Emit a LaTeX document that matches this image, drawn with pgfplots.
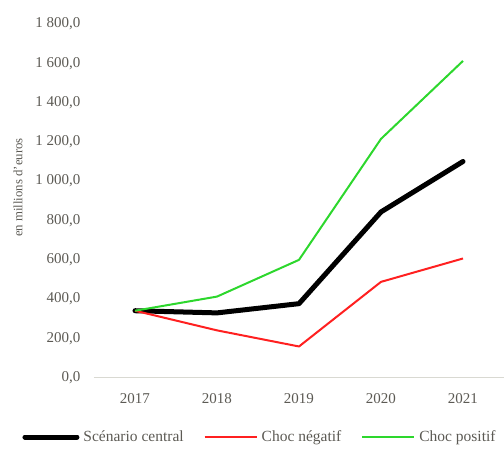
\documentclass[border=0pt]{standalone}
\usepackage{pgfplots}
\pgfplotsset{compat=1.18}
\usepackage{fontspec}
\setmainfont{Liberation Serif}
\definecolor{txt}{RGB}{92,90,84}
\definecolor{axl}{RGB}{217,217,210}
\definecolor{cred}{RGB}{255,32,32}
\definecolor{cgreen}{RGB}{45,215,45}
\begin{document}
\begin{tikzpicture}
\useasboundingbox (-94pt,-70.5pt) rectangle (410pt,377.5pt);
\begin{axis}[
  at={(0,0)}, anchor=south west,
  scale only axis, width=410pt, height=353.5pt,
  xmin=-0.5, xmax=4.5, ymin=0, ymax=1800,
  xtick={0,1,2,3,4}, xticklabels={2017,2018,2019,2020,2021},
  ytick={0,200,...,1800},
  axis x line*=bottom, axis y line*=left,
  x axis line style={draw=axl, line width=1pt, -},
  y axis line style={draw=none},
  major tick length=0pt,
  tick label style={font=\fontsize{15}{17}\selectfont, text=txt},
  /pgf/number format/assume math mode=true,
  yticklabel style={xshift=-10pt, /pgf/number format/.cd, fixed, fixed zerofill, precision=1, use comma, 1000 sep={\ }},
  ylabel={en millions d'euros},
  ylabel style={font=\fontsize{12.8}{14}\selectfont, text=txt},
  every axis y label/.append style={at={(-76pt,190pt)}, anchor=center},
  xticklabel style={yshift=-12pt},
  legend columns=-1,
  legend style={draw=none, fill=none, at={(166pt,-59.5pt)}, anchor=center,
    font=\fontsize{15.5}{17}\selectfont, text=txt,
    /tikz/every even column/.append style={column sep=18pt},
    /tikz/every odd column/.append style={column sep=2pt}},
  legend image code/.code={\draw[#1] (0pt,0pt) -- (52pt,0pt);},
  legend cell align=left,
]
\addplot[black, line width=5pt, line join=round, line cap=round] coordinates {(0,340) (1,329) (2,376) (3,843) (4,1100)};
\addlegendentry{Scénario central}
\addplot[cred, line width=2pt, line join=round] coordinates {(0,340) (1,240) (2,158) (3,487) (4,606)};
\addlegendentry{Choc négatif}
\addplot[cgreen, line width=2pt, line join=round] coordinates {(0,340) (1,412) (2,599) (3,1215) (4,1612)};
\addlegendentry{Choc positif}
\end{axis}
\end{tikzpicture}
\end{document}
